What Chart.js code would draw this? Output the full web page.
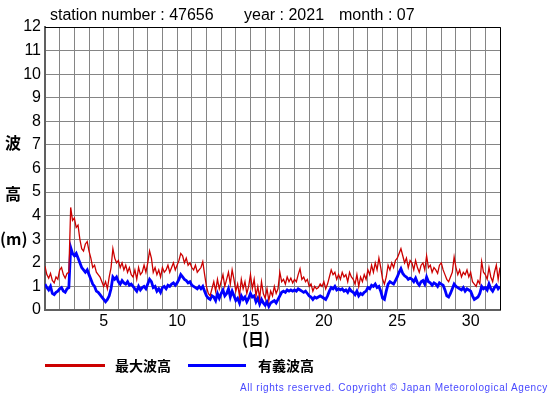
<!DOCTYPE html>
<html>
<head>
<meta charset="utf-8">
<script src="https://cdn.jsdelivr.net/npm/chart.js@4.4.0/dist/chart.umd.min.js"></script>
<style>
  body { margin: 0; background: #fff; }
  #wrap { position: relative; width: 555px; height: 395px; overflow: hidden; font-family: "Liberation Sans", Arial, sans-serif; }
  #wrap canvas { position: absolute; left: 0; top: 0; }
  .txt { position: absolute; white-space: nowrap; color: #000; }
  .title { font-size: 16px; top: 6px; line-height: 18px; }
  .ylab { font-family: "Noto Sans CJK JP", sans-serif; font-size: 16px; font-weight: bold; line-height: 18px; left: 5px; }
  .leg { font-family: "Noto Sans CJK JP", sans-serif; font-size: 14px; font-weight: bold; top: 355px; line-height: 20px; }
  .swatch { position: absolute; height: 3px; top: 364px; }
  .copy { font-size: 10px; color: #4848ff; letter-spacing: 0.6px; top: 381px; left: 240px; line-height: 14px; }
</style>
</head>
<body>
<div id="wrap">
  <canvas id="waveChart" width="555" height="395"></canvas>
  <div class="txt title" style="left:50px">station number : 47656</div>
  <div class="txt title" style="left:244px">year : 2021</div>
  <div class="txt title" style="left:339px">month : 07</div>
  <div class="txt ylab" style="top:133px">波</div>
  <div class="txt ylab" style="top:184px">高</div>
  <div class="txt ylab" style="top:229px;left:0px">(m)</div>
  <div class="txt ylab" style="top:329px;left:242px">(日)</div>
  <div class="swatch" style="left:45px;width:60px;background:#cc0000"></div>
  <div class="txt leg" style="left:115px">最大波高</div>
  <div class="swatch" style="left:188px;width:58px;background:#0000ff"></div>
  <div class="txt leg" style="left:258px">有義波高</div>
  <div class="txt copy">All rights reserved. Copyright © Japan Meteorological Agency</div>
</div>
<script>
// 3-hourly readings, 8 per day, from day 1 00h to day 32 00h
const samplesPerDay = 8;
const firstDay = 1;

// 最大波高 (max wave height, m)
const maxWave = [
  1.85, 1.5, 1.35, 1.55, 1.25, 1.15, 1.4, 1.3,    // 1
  1.7, 1.8, 1.5, 1.35, 1.55, 1.6, 4.35, 3.8,      // 2
  3.9, 3.5, 3.6, 3.0, 2.6, 2.5, 2.8, 2.9,         // 3
  2.5, 2.2, 1.8, 1.9, 1.6, 1.5, 1.4, 1.2,         // 4
  1.0, 1.2, 0.9, 1.4, 1.8, 2.6, 2.2, 2.0,         // 5
  2.1, 1.8, 2.0, 1.7, 1.9, 1.6, 1.8, 1.5,         // 6
  1.4, 1.7, 1.3, 1.8, 1.5, 1.6, 1.9, 1.6,         // 7
  2.0, 2.5, 2.2, 1.6, 1.8, 1.5, 1.7, 1.4,         // 8
  1.8, 1.6, 1.7, 1.9, 1.6, 1.8, 2.0, 1.7,         // 9
  1.9, 2.1, 2.4, 2.3, 2.0, 2.2, 1.9, 2.0,         // 10
  1.8, 1.7, 1.9, 1.6, 1.7, 1.8, 2.05, 1.5,        // 11
  1.0, 0.7, 0.6, 0.9, 1.2, 0.8, 1.3, 0.9,         // 12
  1.2, 1.5, 1.0, 1.3, 1.6, 1.1, 1.7, 1.3,         // 13
  0.8, 1.1, 0.6, 1.3, 0.9, 1.2, 0.7, 1.0,         // 14
  1.5, 0.9, 1.3, 0.6, 1.0, 0.5, 1.2, 0.7,         // 15
  0.5, 0.9, 0.4, 0.8, 0.6, 1.0, 0.7, 0.9,         // 16
  1.6, 1.2, 1.3, 1.1, 1.4, 1.2, 1.35, 1.15,       // 17
  1.3, 1.2, 1.5, 1.75, 1.3, 1.4, 1.2, 1.3,        // 18
  1.0, 1.1, 0.8, 1.0, 0.9, 0.95, 1.1, 1.0,        // 19
  1.2, 0.9, 1.1, 1.4, 1.7, 1.5, 1.6, 1.3,         // 20
  1.5, 1.3, 1.6, 1.4, 1.5, 1.2, 1.6, 1.4,         // 21
  1.3, 1.1, 1.5, 1.0, 1.4, 1.2, 1.5, 1.3,         // 22
  1.7, 1.5, 1.9, 1.6, 2.0, 1.7, 2.2, 1.8,         // 23
  1.3, 1.1, 1.4, 1.9, 1.7, 2.0, 1.8, 2.1,         // 24
  2.2, 2.4, 2.6, 2.3, 2.0, 2.2, 1.8, 2.1,         // 25
  2.0, 1.7, 2.1, 1.8, 1.6, 1.9, 2.0, 1.7,         // 26
  2.3, 1.8, 1.9, 1.6, 1.8, 1.7, 1.55, 1.9,        // 27
  2.0, 1.7, 1.5, 1.3, 1.2, 1.4, 1.6, 2.25,        // 28
  1.8, 1.5, 1.7, 1.4, 1.6, 1.5, 1.7, 1.4,         // 29
  1.6, 1.2, 1.1, 1.0, 1.25, 1.1, 2.05, 1.6,       // 30
  1.5, 1.3, 1.8, 1.4, 1.2, 1.6, 1.9, 1.3,         // 31
  1.8
];

// 有義波高 (significant wave height, m)
const sigWave = [
  1.1, 0.95, 0.85, 1.0, 0.7, 0.65, 0.75, 0.8,     // 1
  0.9, 0.95, 0.8, 0.75, 0.9, 0.95, 2.65, 2.4,     // 2
  2.3, 2.4, 2.2, 2.0, 1.8, 1.7, 1.6, 1.7,         // 3
  1.5, 1.3, 1.1, 1.0, 0.8, 0.75, 0.65, 0.55,      // 4
  0.45, 0.35, 0.45, 0.6, 0.9, 1.4, 1.3, 1.4,      // 5
  1.2, 1.1, 1.25, 1.15, 1.1, 1.2, 1.05, 1.1,      // 6
  1.0, 0.9, 0.8, 1.0, 0.85, 0.95, 1.0, 0.9,       // 7
  1.1, 1.3, 1.2, 0.95, 1.0, 0.8, 0.9, 0.75,       // 8
  0.95, 1.0, 0.9, 1.05, 1.0, 1.1, 1.15, 1.05,     // 9
  1.15, 1.3, 1.5, 1.4, 1.3, 1.25, 1.15, 1.2,      // 10
  1.05, 1.0, 0.95, 0.9, 1.0, 0.9, 1.0, 0.8,       // 11
  0.6, 0.5, 0.45, 0.6, 0.55, 0.4, 0.7, 0.5,       // 12
  0.7, 0.85, 0.6, 0.7, 0.9, 0.55, 0.8, 0.6,       // 13
  0.4, 0.5, 0.3, 0.6, 0.45, 0.55, 0.35, 0.5,      // 14
  0.7, 0.55, 0.6, 0.35, 0.5, 0.25, 0.45, 0.3,     // 15
  0.2, 0.35, 0.15, 0.3, 0.35, 0.4, 0.3, 0.45,     // 16
  0.6, 0.75, 0.8, 0.75, 0.85, 0.8, 0.85, 0.8,     // 17
  0.85, 0.8, 0.9, 0.85, 0.8, 0.75, 0.8, 0.7,      // 18
  0.6, 0.55, 0.45, 0.55, 0.5, 0.55, 0.6, 0.55,    // 19
  0.5, 0.45, 0.6, 0.8, 0.95, 0.9, 1.0, 0.85,      // 20
  0.9, 0.85, 0.9, 0.8, 0.85, 0.75, 0.9, 0.8,      // 21
  0.75, 0.65, 0.8, 0.6, 0.7, 0.65, 0.75, 0.8,     // 22
  0.95, 0.9, 1.05, 1.0, 1.1, 0.95, 1.0, 0.8,      // 23
  0.5, 0.45, 0.8, 1.1, 1.2, 1.15, 1.1, 1.25,      // 24
  1.4, 1.6, 1.75, 1.55, 1.45, 1.4, 1.3, 1.35,     // 25
  1.3, 1.2, 1.35, 1.15, 1.05, 1.2, 1.25, 1.1,     // 26
  1.4, 1.2, 1.15, 1.05, 1.15, 1.1, 1.0, 1.15,     // 27
  1.1, 1.05, 0.85, 0.6, 0.55, 0.7, 0.9, 1.1,      // 28
  1.0, 0.95, 0.9, 0.85, 0.95, 0.8, 0.9, 0.85,     // 29
  0.8, 0.6, 0.45, 0.5, 0.55, 0.7, 1.0, 0.9,       // 30
  0.95, 0.85, 1.1, 0.9, 0.8, 0.95, 1.05, 0.9,     // 31
  1.0
];

const dayTicks = [5, 10, 15, 20, 25, 30];

function toPoints(values) {
  return values.map((v, i) => ({ x: firstDay + i / samplesPerDay, y: v }));
}

// black frame on top and right like the original
const frameLines = {
  id: 'frameLines',
  afterDraw(chart) {
    const { ctx, chartArea: a } = chart;
    ctx.save();
    ctx.strokeStyle = '#000';
    ctx.lineWidth = 1;
    ctx.beginPath();
    ctx.moveTo(a.left, a.top + 0.5);
    ctx.lineTo(a.right + 0.5, a.top + 0.5);
    ctx.lineTo(a.right + 0.5, a.bottom);
    ctx.stroke();
    ctx.restore();
  }
};

const ctx = document.getElementById('waveChart').getContext('2d');
const waveChart = new Chart(ctx, {
  type: 'line',
  data: {
    datasets: [
      {
        label: '最大波高',
        data: toPoints(maxWave),
        borderColor: '#cc0000',
        borderWidth: 1.3,
        pointRadius: 0,
        tension: 0
      },
      {
        label: '有義波高',
        data: toPoints(sigWave),
        borderColor: '#0000ff',
        borderWidth: 2.8,
        pointRadius: 0,
        tension: 0
      }
    ]
  },
  options: {
    responsive: false,
    animation: false,
    devicePixelRatio: 1,
    layout: { padding: { left: 0, top: 27, right: 55, bottom: 0 } },
    plugins: {
      legend: { display: false },
      title: { display: false },
      tooltip: { enabled: false }
    },
    scales: {
      x: {
        type: 'linear',
        min: 1,
        max: 32,
        afterFit(scale) { scale.height = 85; },
        grid: { color: '#858585', lineWidth: 1, drawTicks: false },
        border: { color: '#606060', width: 2 },
        ticks: {
          stepSize: 1,
          autoSkip: false,
          maxRotation: 0,
          padding: 2,
          color: '#000',
          font: { family: '"Liberation Sans", Arial, sans-serif', size: 16 },
          callback: v => dayTicks.includes(v) ? String(v) : ''
        }
      },
      y: {
        min: 0,
        max: 12,
        afterFit(scale) { scale.width = 45; },
        grid: { color: '#858585', lineWidth: 1, drawTicks: false },
        border: { color: '#606060', width: 2 },
        ticks: {
          stepSize: 1,
          padding: 4,
          color: '#000',
          font: { family: '"Liberation Sans", Arial, sans-serif', size: 16 }
        }
      }
    }
  },
  plugins: [frameLines]
});
</script>
</body>
</html>
